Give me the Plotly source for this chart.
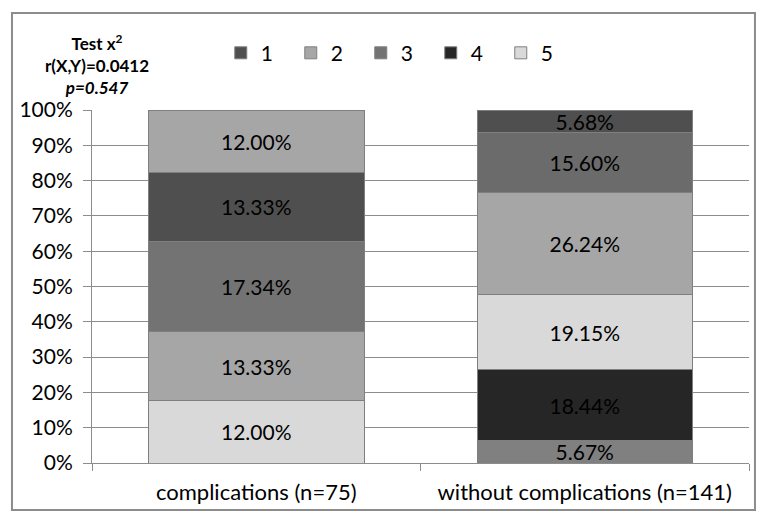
import plotly.graph_objects as go

categories = ["complications (n=75)", "without complications (n=141)"]

# stack levels, bottom to top (values as printed in the bars)
level_values = [
    [12.00, 5.67],
    [13.33, 18.44],
    [17.34, 19.15],
    [13.33, 26.24],
    [12.00, 15.60],
    [None, 5.68],
]
level_colors = [
    ["#d9d9d9", "#808080"],
    ["#a6a6a6", "#262626"],
    ["#737373", "#d9d9d9"],
    ["#4f4f4f", "#a6a6a6"],
    ["#a6a6a6", "#6b6b6b"],
    ["#4f4f4f", "#4f4f4f"],
]

legend_names = ["1", "2", "3", "4", "5"]
legend_colors = ["#4f4f4f", "#a6a6a6", "#737373", "#262626", "#d9d9d9"]

FONT = "Lato, Calibri, sans-serif"

fig = go.Figure()

for name, col in zip(legend_names, legend_colors):
    fig.add_trace(go.Bar(x=[categories[0]], y=[None], name=name,
                         marker=dict(color=col, line=dict(color="#7f7f7f", width=1)),
                         showlegend=True, hoverinfo="skip"))

for vals, cols in zip(level_values, level_colors):
    xs, ys, cs = [], [], []
    for c, v, col in zip(categories, vals, cols):
        if v is not None:
            xs.append(c); ys.append(v); cs.append(col)
    texts = ["%.2f%%" % v for v in ys]
    fig.add_trace(go.Bar(
        x=xs, y=ys, text=texts, texttemplate="%{text}",
        textposition="inside", insidetextanchor="middle",
        textfont=dict(family=FONT, size=21, color="#000000"),
        marker=dict(color=cs, line=dict(color="#7f7f7f", width=1)),
        showlegend=False,
    ))

fig.update_layout(
    width=767, height=521,
    barmode="stack", barnorm="percent", bargap=0.344,
    paper_bgcolor="white", plot_bgcolor="white",
    margin=dict(l=92, r=18, t=110, b=58, autoexpand=False),
    font=dict(family=FONT, size=21, color="#000000"),
    uniformtext=dict(minsize=21, mode="show"),
    legend=dict(orientation="h", x=0.196, xanchor="left", y=1.161, yanchor="middle",
                entrywidth=25, entrywidthmode="pixels",
                font=dict(family=FONT, size=21), bgcolor="rgba(0,0,0,0)",
                traceorder="normal"),
    showlegend=True,
)

fig.update_yaxes(range=[0, 100], dtick=10, ticksuffix="%",
                 showgrid=True, gridcolor="#8c8c8c", gridwidth=1,
                 showline=True, linecolor="#8c8c8c", linewidth=1,
                 ticks="outside", ticklen=8, tickcolor="#8c8c8c",
                 ticklabelstandoff=6,
                 tickfont=dict(family=FONT, size=21), zeroline=False)
fig.update_xaxes(type="category", categoryorder="array", categoryarray=categories,
                 showline=True, linecolor="#8c8c8c", linewidth=1,
                 ticks="outside", ticklen=7, tickcolor="#8c8c8c",
                 tickson="boundaries", showgrid=False, ticklabelstandoff=10,
                 tickfont=dict(family=FONT, size=22))

# outer chart frame
fig.add_shape(type="rect", xref="paper", yref="paper",
              x0=-0.1218, x1=1.0091, y0=-0.1331, y1=1.2748,
              line=dict(color="#8c8c8c", width=2), fillcolor="rgba(0,0,0,0)",
              layer="below")

fig.add_annotation(xref="paper", yref="paper", x=0.008, y=1.13,
                   xanchor="center", yanchor="middle", showarrow=False, align="center",
                   text="<b>Test x<sup>2</sup></b><br><b>r(X,Y)=0.0412</b><br><b><i>p=0.547</i></b>",
                   font=dict(family=FONT, size=17, color="#000000"))

fig.write_html("out.html", config={"displayModeBar": False},
               post_script="document.body.style.margin='0';")
